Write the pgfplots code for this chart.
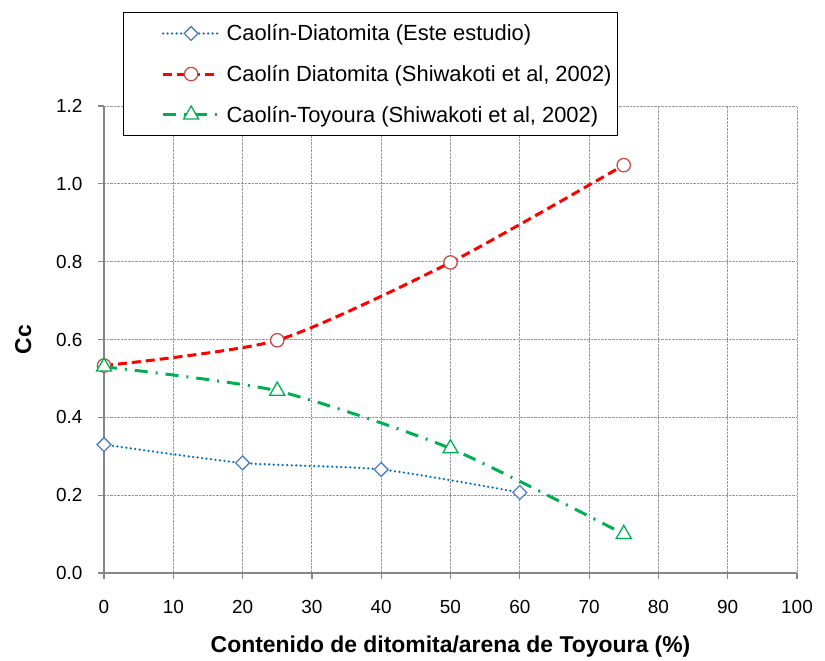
\documentclass[border=0pt]{standalone}
\usepackage{pgfplots}
\pgfplotsset{compat=1.18}
\usepackage{fontspec}
\setmainfont{Liberation Sans}
\definecolor{axgray}{HTML}{868686}
\definecolor{blueL}{HTML}{0070C0}
\definecolor{blueM}{HTML}{4F81BD}
\definecolor{redL}{HTML}{FF0000}
\definecolor{redM}{HTML}{C0504D}
\definecolor{greenL}{HTML}{00B050}
\begin{document}
\begin{tikzpicture}
\begin{axis}[
  scale only axis,
  width=693bp, height=467bp,
  xmin=0, xmax=100, ymin=0, ymax=1.2,
  xtick={0,10,...,100},
  ytick={0,0.2,...,1.2},
  axis x line=bottom, axis y line=left,
  axis line style={axgray, line width=1.5bp, -},
  tick align=outside,
  major tick length=6bp,
  tick style={axgray, line width=1.2bp},
  grid=major,
  grid style={densely dotted, gray!80, line width=0.9bp},
  tick label style={font=\fontsize{19}{22}\selectfont},
  /pgf/number format/assume math mode=true,
  yticklabel style={/pgf/number format/fixed, /pgf/number format/fixed zerofill, /pgf/number format/precision=1, xshift=-12bp},
  xticklabel style={yshift=-18bp},
  xlabel={\textbf{Contenido de ditomita/arena de Toyoura (\%)}},
  ylabel={\textbf{Cc}},
  label style={font=\fontsize{23}{26}\selectfont},
  xlabel style={yshift=-15bp},
  ylabel style={yshift=18bp},
  clip=false,
  legend style={
    at={(0.0274,1.2013)}, anchor=north west,
    draw=black, line width=1.3bp, fill=white,
    font=\fontsize{22}{25}\selectfont,
    inner xsep=4bp, inner ysep=10bp,
    row sep=19bp,
    cells={anchor=west},
  },
  legend image code/.code={
    \path (0bp,0bp) (94bp,0bp);
    \draw[mark repeat=2, mark phase=2] plot coordinates {(34bp,0bp) (62bp,0bp) (90bp,0bp)};
  },
]
\addplot[blueL, line width=2.5bp, dash pattern=on 0bp off 4.5bp, line cap=round, smooth, tension=0.4,
  mark=square*, mark size=4.9bp, mark options={solid, rotate=45, draw=blueM, fill=white, line width=1.3bp}]
  coordinates {(0,0.330) (20,0.283) (40,0.266) (60,0.207)};
\addlegendentry{Caolín-Diatomita (Este estudio)}
\addplot[redL, line width=3bp, dash pattern=on 9bp off 5bp, smooth, tension=0.4,
  mark=*, mark size=6.7bp, mark options={solid, draw=redM, fill=white, line width=1.3bp}]
  coordinates {(0,0.533) (25,0.598) (50,0.798) (75,1.048)};
\addlegendentry{Caolín Diatomita (Shiwakoti et al, 2002)}
\addplot[greenL, line width=3bp, dash pattern=on 13bp off 8bp on 2bp off 8bp, smooth, tension=0.4,
  mark=triangle*, mark size=8.7bp, mark options={solid, draw=greenL, fill=white, line width=1.3bp}]
  coordinates {(0,0.530) (25,0.468) (50,0.320) (75,0.100)};
\addlegendentry{Caolín-Toyoura (Shiwakoti et al, 2002)}
\end{axis}
\path ([shift={(-104bp,-87bp)}]current axis.south west) rectangle ([shift={(28bp,106bp)}]current axis.north east);
\end{tikzpicture}
\end{document}
